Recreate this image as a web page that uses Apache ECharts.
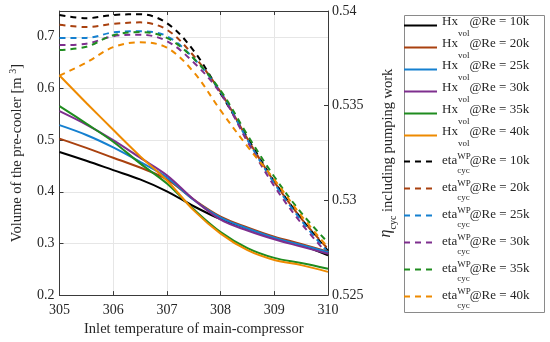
<!DOCTYPE html>
<html>
<head>
<meta charset="utf-8">
<script src="https://cdn.jsdelivr.net/npm/echarts@6/dist/echarts.min.js"></script>
<style>html,body{margin:0;padding:0;background:#fff}#c{width:550px;height:342px}</style>
</head>
<body>
<div id="c"></div>
<script>
const temps = [305, 305.5, 306, 306.5, 307, 307.5, 308, 308.5, 309, 309.5, 310];
const reLabels = ['10k', '20k', '25k', '30k', '35k', '40k'];
const colors = ['#000000', '#a9410f', '#1580d0', '#7e2f8e', '#1f8c1f', '#ee8a00'];

const hx10 = [0.477, 0.460, 0.442, 0.424, 0.401, 0.372, 0.347, 0.329, 0.311, 0.297, 0.277];
const hx20 = [0.503, 0.485, 0.466, 0.447, 0.424, 0.385, 0.352, 0.331, 0.313, 0.299, 0.284];
const hx25 = [0.529, 0.510, 0.486, 0.458, 0.428, 0.384, 0.350, 0.329, 0.311, 0.297, 0.283];
const hx30 = [0.556, 0.530, 0.500, 0.466, 0.432, 0.385, 0.346, 0.325, 0.308, 0.294, 0.280];
const hx35 = [0.566, 0.532, 0.497, 0.455, 0.416, 0.366, 0.322, 0.291, 0.272, 0.262, 0.251];
const hx40 = [0.625, 0.572, 0.520, 0.469, 0.422, 0.364, 0.319, 0.287, 0.268, 0.258, 0.245];

const eta10 = [0.53979, 0.53962, 0.53979, 0.53983, 0.53936, 0.53790, 0.53565, 0.53330, 0.53100, 0.52905, 0.52734];
const eta20 = [0.53927, 0.53915, 0.53932, 0.53940, 0.53901, 0.53763, 0.53572, 0.53325, 0.53098, 0.52905, 0.52744];
const eta25 = [0.53858, 0.53858, 0.53887, 0.53893, 0.53867, 0.53749, 0.53573, 0.53320, 0.53090, 0.52895, 0.52725];
const eta30 = [0.53820, 0.53827, 0.53867, 0.53875, 0.53841, 0.53728, 0.53565, 0.53310, 0.53075, 0.52880, 0.52715];
const eta35 = [0.53794, 0.53811, 0.53872, 0.53889, 0.53858, 0.53749, 0.53580, 0.53345, 0.53125, 0.52935, 0.52777];
const eta40 = [0.53659, 0.53728, 0.53809, 0.53835, 0.53806, 0.53677, 0.53475, 0.53285, 0.53110, 0.52920, 0.52751];

const xTicks = [305, 306, 307, 308, 309, 310];
const leftTicks = [0.2, 0.3, 0.4, 0.5, 0.6, 0.7];
const rightTicks = [0.525, 0.53, 0.535, 0.54];

const hxSets = [hx10, hx20, hx25, hx30, hx35, hx40];
const etaSets = [eta10, eta20, eta25, eta30, eta35, eta40];

const FONT = 'Liberation Serif';
const TXT = '#262626';
const AX = '#3a3a3a';

function pairs(vals) { return temps.map((t, i) => [t, vals[i]]); }

const series = [];
hxSets.forEach((v, i) => series.push({
  name: 'hx' + i, type: 'line', xAxisIndex: 0, yAxisIndex: 0, data: pairs(v),
  smooth: 0.35, symbol: 'none', lineStyle: { color: colors[i], width: 2 }, itemStyle: { color: colors[i] }, z: 3
}));
etaSets.forEach((v, i) => series.push({
  name: 'eta' + i, type: 'line', xAxisIndex: 0, yAxisIndex: 1, data: pairs(v),
  smooth: 0.35, symbol: 'none', lineStyle: { color: colors[i], width: 2, type: [6, 5] }, itemStyle: { color: colors[i] }, z: 2
}));

const legendRichHx = {
  m: { fontFamily: FONT, fontSize: 13, color: TXT, lineHeight: 14, padding: [2, 0, 10, 0] },
  s: { fontFamily: FONT, fontSize: 9, color: TXT, lineHeight: 10, padding: [16, 0, 0, 0] }
};
const legendRichEta = {
  m: { fontFamily: FONT, fontSize: 13, color: TXT, lineHeight: 14, padding: [6, 0, 8, 0] },
  p: { fontFamily: FONT, fontSize: 9, color: TXT, lineHeight: 10, padding: [4, 0, 14, 0], width: 0 },
  s: { fontFamily: FONT, fontSize: 9, color: TXT, lineHeight: 10, padding: [18, 0, 0, 0] }
};

const chart = echarts.init(document.getElementById('c'), null, { renderer: 'canvas' });
chart.setOption({
  animation: false,
  backgroundColor: '#ffffff',
  grid: { left: 47, right: 222, top: 11, bottom: 42, containLabel: false },
  graphic: [{
    type: 'rect', left: 402, top: 13, shape: { width: 140, height: 297 },
    style: { fill: 'none', stroke: '#8a8a8a', lineWidth: 1 }, silent: true
  }],
  legend: [{
    data: reLabels.map((r, i) => 'hx' + i),
    orient: 'vertical', left: 403, top: 13, padding: 0, itemGap: -3,
    itemWidth: 33, itemHeight: 14, itemStyle: { opacity: 0 },
    formatter: name => '{m|Hx}{s|vol}{m|@Re = ' + reLabels[+name.slice(2)] + '}',
    textStyle: { fontFamily: FONT, fontSize: 13, color: TXT, rich: legendRichHx }
  }, {
    data: reLabels.map((r, i) => 'eta' + i),
    orient: 'vertical', left: 403, top: 148, padding: 0, itemGap: 0,
    itemWidth: 33, itemHeight: 14, itemStyle: { opacity: 0 },
    formatter: name => '{m|eta}{p|WP}{s|cyc}{m|@Re = ' + reLabels[+name.slice(3)] + '}',
    textStyle: { fontFamily: FONT, fontSize: 13, color: TXT, rich: legendRichEta }
  }],
  xAxis: [{
    type: 'value', position: 'bottom', min: xTicks[0], max: xTicks[xTicks.length - 1], interval: 1,
    axisLine: { show: true, onZero: false, lineStyle: { color: AX, width: 1 } },
    axisTick: { show: true, inside: true, length: 4, lineStyle: { color: AX } },
    axisLabel: { fontFamily: FONT, fontSize: 14, color: TXT, margin: 8 },
    splitLine: { show: true, lineStyle: { color: '#e6e6e6', width: 1 } },
    name: 'Inlet temperature of main-compressor', nameLocation: 'middle', nameGap: 24,
    nameTextStyle: { fontFamily: FONT, fontSize: 14.5, color: TXT }
  }, {
    type: 'value', position: 'top', min: xTicks[0], max: xTicks[xTicks.length - 1], interval: 1,
    axisLine: { show: true, onZero: false, lineStyle: { color: AX, width: 1 } },
    axisTick: { show: true, inside: true, length: 4, lineStyle: { color: AX } },
    axisLabel: { show: false }, splitLine: { show: false }
  }],
  yAxis: [{
    type: 'value', position: 'left', min: leftTicks[0], max: 0.75, interval: 0.1,
    axisLine: { show: true, onZero: false, lineStyle: { color: AX, width: 1 } },
    axisTick: { show: true, inside: true, length: 4, lineStyle: { color: AX } },
    axisLabel: { fontFamily: FONT, fontSize: 14, color: TXT, margin: 5, showMaxLabel: false,
      formatter: v => String(+v.toFixed(2)) },
    splitLine: { show: true, lineStyle: { color: '#e6e6e6', width: 1 } },
    name: 'Volume of the pre-cooler [m {sup|3}]', nameLocation: 'middle', nameGap: 35, nameRotate: 90,
    nameTextStyle: { fontFamily: FONT, fontSize: 14.5, color: TXT,
      rich: { sup: { fontFamily: FONT, fontSize: 10, color: TXT, lineHeight: 10, padding: [0, 0, 8, 0] } } }
  }, {
    type: 'value', position: 'right', min: rightTicks[0], max: rightTicks[rightTicks.length - 1], interval: 0.005,
    axisLine: { show: true, onZero: false, lineStyle: { color: AX, width: 1 } },
    axisTick: { show: true, inside: true, length: 4, lineStyle: { color: AX } },
    axisLabel: { fontFamily: FONT, fontSize: 14, color: TXT, margin: 4,
      formatter: v => String(+v.toFixed(3)) },
    splitLine: { show: false },
    name: '{e|η}{s|cyc} including pumping work', nameLocation: 'middle', nameGap: 52, nameRotate: 90,
    nameTextStyle: { fontFamily: FONT, fontSize: 14.5, color: TXT,
      rich: {
        e: { fontFamily: FONT, fontSize: 16, fontStyle: 'italic', color: TXT, lineHeight: 16, padding: [0, 0, 4, 0] },
        s: { fontFamily: FONT, fontSize: 10, color: TXT, lineHeight: 10, padding: [10, 0, 0, 0] }
      } }
  }],
  series: series
});
</script>
</body>
</html>
